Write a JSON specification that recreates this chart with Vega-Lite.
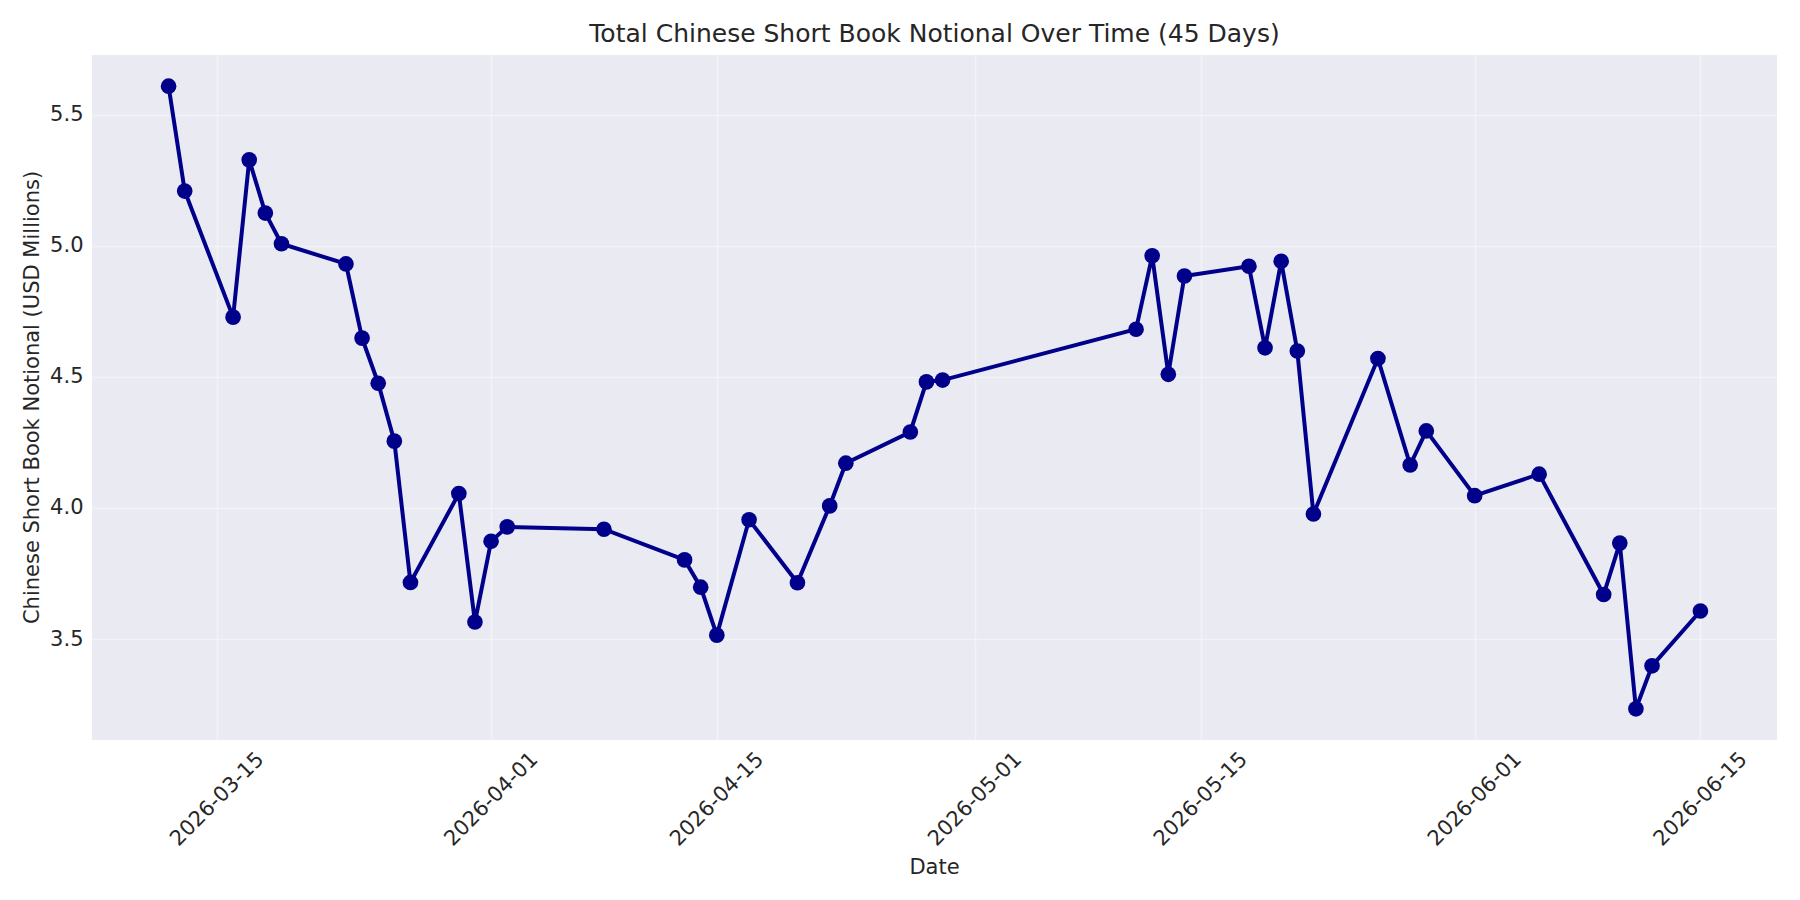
{
  "$schema": "https://vega.github.io/schema/vega-lite/v6.json",
  "width": 1685,
  "height": 685,
  "autosize": {"type": "none"},
  "padding": {"left": 92, "top": 55, "right": 23, "bottom": 160},
  "background": "white",
  "title": {
    "text": "Total Chinese Short Book Notional Over Time (45 Days)",
    "fontSize": 25,
    "font": "DejaVu Sans",
    "fontWeight": "normal",
    "color": "#262626",
    "anchor": "middle",
    "offset": 8
  },
  "config": {
    "view": {"fill": "#EAEAF2", "stroke": null},
    "axis": {
      "labelFont": "DejaVu Sans",
      "titleFont": "DejaVu Sans",
      "labelFontSize": 21,
      "titleFontSize": 21,
      "labelColor": "#262626",
      "titleColor": "#262626",
      "titleFontWeight": "normal",
      "domain": false,
      "ticks": false,
      "tickSize": 0,
      "gridColor": "#FFFFFF",
      "gridOpacity": 0.4,
      "gridWidth": 1.5
    }
  },
  "data": {
    "values": [
      {"date": "2026-03-12T00:00:00", "value": 5.609},
      {"date": "2026-03-13T00:00:00", "value": 5.209},
      {"date": "2026-03-16T00:00:00", "value": 4.728},
      {"date": "2026-03-17T00:00:00", "value": 5.328},
      {"date": "2026-03-18T00:00:00", "value": 5.125},
      {"date": "2026-03-19T00:00:00", "value": 5.008},
      {"date": "2026-03-23T00:00:00", "value": 4.931},
      {"date": "2026-03-24T00:00:00", "value": 4.648},
      {"date": "2026-03-25T00:00:00", "value": 4.476},
      {"date": "2026-03-26T00:00:00", "value": 4.255},
      {"date": "2026-03-27T00:00:00", "value": 3.716},
      {"date": "2026-03-30T00:00:00", "value": 4.055},
      {"date": "2026-03-31T00:00:00", "value": 3.565},
      {"date": "2026-04-01T00:00:00", "value": 3.873},
      {"date": "2026-04-02T00:00:00", "value": 3.928},
      {"date": "2026-04-08T00:00:00", "value": 3.919},
      {"date": "2026-04-13T00:00:00", "value": 3.802},
      {"date": "2026-04-14T00:00:00", "value": 3.698},
      {"date": "2026-04-15T00:00:00", "value": 3.515},
      {"date": "2026-04-17T00:00:00", "value": 3.955},
      {"date": "2026-04-20T00:00:00", "value": 3.715},
      {"date": "2026-04-22T00:00:00", "value": 4.008},
      {"date": "2026-04-23T00:00:00", "value": 4.171},
      {"date": "2026-04-27T00:00:00", "value": 4.290},
      {"date": "2026-04-28T00:00:00", "value": 4.481},
      {"date": "2026-04-29T00:00:00", "value": 4.488},
      {"date": "2026-05-11T00:00:00", "value": 4.682},
      {"date": "2026-05-12T00:00:00", "value": 4.962},
      {"date": "2026-05-13T00:00:00", "value": 4.510},
      {"date": "2026-05-14T00:00:00", "value": 4.885},
      {"date": "2026-05-18T00:00:00", "value": 4.922},
      {"date": "2026-05-19T00:00:00", "value": 4.611},
      {"date": "2026-05-20T00:00:00", "value": 4.941},
      {"date": "2026-05-21T00:00:00", "value": 4.599},
      {"date": "2026-05-22T00:00:00", "value": 3.977},
      {"date": "2026-05-26T00:00:00", "value": 4.570},
      {"date": "2026-05-28T00:00:00", "value": 4.164},
      {"date": "2026-05-29T00:00:00", "value": 4.294},
      {"date": "2026-06-01T00:00:00", "value": 4.047},
      {"date": "2026-06-05T00:00:00", "value": 4.129},
      {"date": "2026-06-09T00:00:00", "value": 3.670},
      {"date": "2026-06-10T00:00:00", "value": 3.866},
      {"date": "2026-06-11T00:00:00", "value": 3.234},
      {"date": "2026-06-12T00:00:00", "value": 3.398},
      {"date": "2026-06-15T00:00:00", "value": 3.607}
    ]
  },
  "encoding": {
    "x": {
      "field": "date",
      "type": "temporal",
      "scale": {
        "domain": [
          {"year": 2026, "month": 3, "date": 7, "hours": 6},
          {"year": 2026, "month": 6, "date": 19, "hours": 18}
        ],
        "nice": false
      },
      "axis": {
        "title": "Date",
        "values": [
          {"year": 2026, "month": 3, "date": 15},
          {"year": 2026, "month": 4, "date": 1},
          {"year": 2026, "month": 4, "date": 15},
          {"year": 2026, "month": 5, "date": 1},
          {"year": 2026, "month": 5, "date": 15},
          {"year": 2026, "month": 6, "date": 1},
          {"year": 2026, "month": 6, "date": 15}
        ],
        "format": "%Y-%m-%d",
        "labelAngle": -45,
        "labelAlign": "center",
        "labelBaseline": "middle",
        "labelPadding": 59,
        "labelFlush": false,
        "labelOverlap": false,
        "labelBound": false,
        "titleX": 842,
        "titleY": 127,
        "titleAlign": "center",
        "titleBaseline": "middle"
      }
    },
    "y": {
      "field": "value",
      "type": "quantitative",
      "scale": {"domain": [3.115, 5.728], "nice": false, "zero": false},
      "axis": {
        "title": "Chinese Short Book Notional (USD Millions)",
        "values": [3.5, 4.0, 4.5, 5.0, 5.5],
        "format": ".1f",
        "labelPadding": 9,
        "titleX": -60,
        "titleY": 342,
        "titleAlign": "center",
        "titleBaseline": "middle"
      }
    }
  },
  "layer": [
    {"mark": {"type": "line", "color": "#00008B", "strokeWidth": 4}},
    {"mark": {"type": "point", "filled": true, "color": "#00008B", "size": 245, "opacity": 1}}
  ]
}
